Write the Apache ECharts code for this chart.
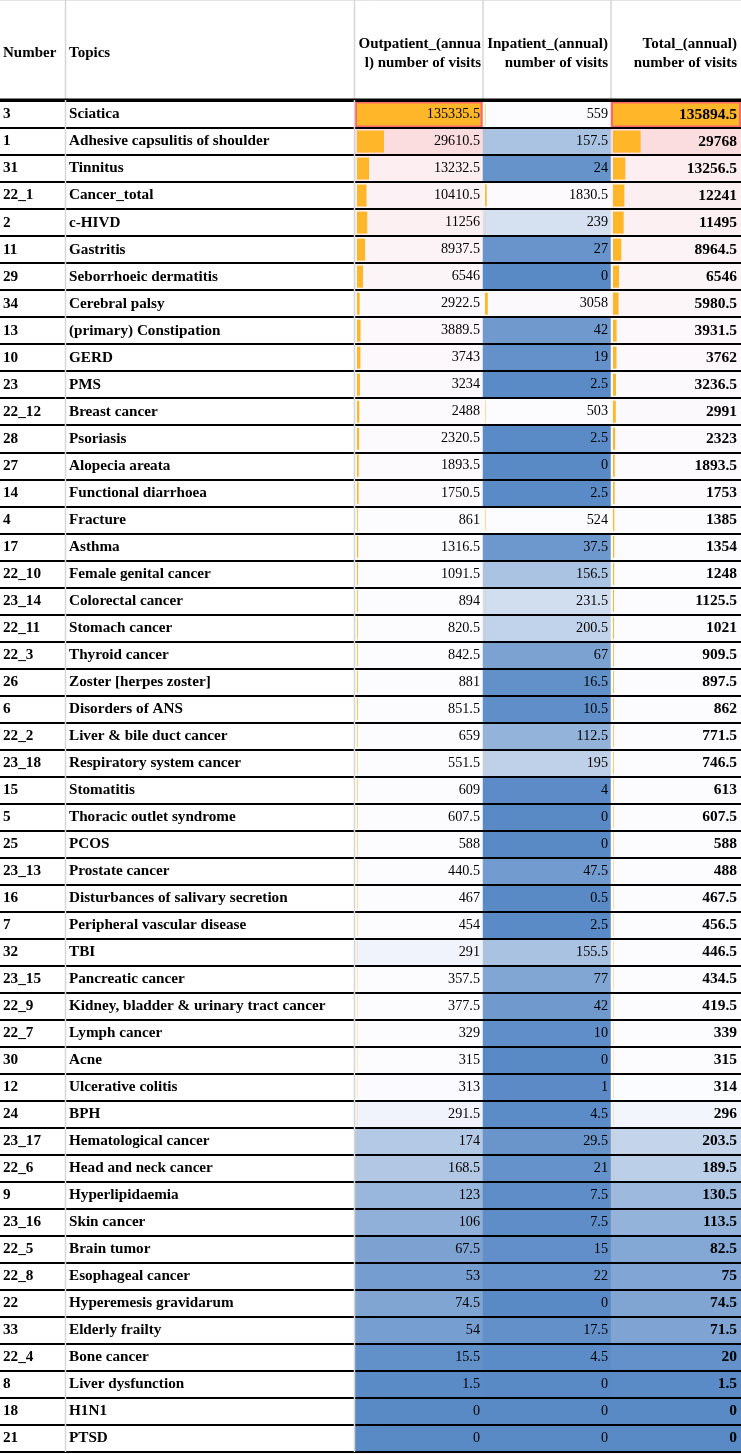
<!DOCTYPE html>
<html>
<head>
<meta charset="utf-8">
<title>Annual number of visits by topic</title>
<script src="https://cdn.jsdelivr.net/npm/echarts@6/dist/echarts.min.js"></script>
<style>
  html, body { margin: 0; padding: 0; background: #fff; }
  #table { width: 741px; height: 1454px; }
</style>
</head>
<body>
<div id="table"></div>
<script>
// table rows
const numbers = ["3", "1", "31", "22_1", "2", "11", "29", "34", "13", "10", "23", "22_12", "28", "27", "14", "4", "17", "22_10", "23_14", "22_11", "22_3", "26", "6", "22_2", "23_18", "15", "5", "25", "23_13", "16", "7", "32", "23_15", "22_9", "22_7", "30", "12", "24", "23_17", "22_6", "9", "23_16", "22_5", "22_8", "22", "33", "22_4", "8", "18", "21"];
const topics = ["Sciatica", "Adhesive capsulitis of shoulder", "Tinnitus", "Cancer_total", "c-HIVD", "Gastritis", "Seborrhoeic dermatitis", "Cerebral palsy", "(primary) Constipation", "GERD", "PMS", "Breast cancer", "Psoriasis", "Alopecia areata", "Functional diarrhoea", "Fracture", "Asthma", "Female genital cancer", "Colorectal cancer", "Stomach cancer", "Thyroid cancer", "Zoster [herpes zoster]", "Disorders of ANS", "Liver & bile duct cancer", "Respiratory system cancer", "Stomatitis", "Thoracic outlet syndrome", "PCOS", "Prostate cancer", "Disturbances of salivary secretion", "Peripheral vascular disease", "TBI", "Pancreatic cancer", "Kidney, bladder & urinary tract cancer", "Lymph cancer", "Acne", "Ulcerative colitis", "BPH", "Hematological cancer", "Head and neck cancer", "Hyperlipidaemia", "Skin cancer", "Brain tumor", "Esophageal cancer", "Hyperemesis gravidarum", "Elderly frailty", "Bone cancer", "Liver dysfunction", "H1N1", "PTSD"];
const outpatient = [135335.5, 29610.5, 13232.5, 10410.5, 11256, 8937.5, 6546, 2922.5, 3889.5, 3743, 3234, 2488, 2320.5, 1893.5, 1750.5, 861, 1316.5, 1091.5, 894, 820.5, 842.5, 881, 851.5, 659, 551.5, 609, 607.5, 588, 440.5, 467, 454, 291, 357.5, 377.5, 329, 315, 313, 291.5, 174, 168.5, 123, 106, 67.5, 53, 74.5, 54, 15.5, 1.5, 0, 0];
const inpatient = [559, 157.5, 24, 1830.5, 239, 27, 0, 3058, 42, 19, 2.5, 503, 2.5, 0, 2.5, 524, 37.5, 156.5, 231.5, 200.5, 67, 16.5, 10.5, 112.5, 195, 4, 0, 0, 47.5, 0.5, 2.5, 155.5, 77, 42, 10, 0, 1, 4.5, 29.5, 21, 7.5, 7.5, 15, 22, 0, 17.5, 4.5, 0, 0, 0];
const total = [135894.5, 29768, 13256.5, 12241, 11495, 8964.5, 6546, 5980.5, 3931.5, 3762, 3236.5, 2991, 2323, 1893.5, 1753, 1385, 1354, 1248, 1125.5, 1021, 909.5, 897.5, 862, 771.5, 746.5, 613, 607.5, 588, 488, 467.5, 456.5, 446.5, 434.5, 419.5, 339, 315, 314, 296, 203.5, 189.5, 130.5, 113.5, 82.5, 75, 74.5, 71.5, 20, 1.5, 0, 0];

const chart = echarts.init(document.getElementById("table"));

// 3-colour scale (min - median - max) and data bars share one range over all three columns
const allValues = outpatient.concat(inpatient, total).sort((a, b) => a - b);
const n = allValues.length;
const minValue = allValues[0];
const maxValue = allValues[n - 1];
const median = n % 2 ? allValues[(n - 1) / 2] : (allValues[n / 2 - 1] + allValues[n / 2]) / 2;

function scalePos(v) {
  if (v <= median) return 0.5 * (v - minValue) / (median - minValue);
  return 0.5 + 0.5 * (v - median) / (maxValue - median);
}

const FONT = "Liberation Serif";
const TOP = 101;
const HEIGHT = 1351;
const rowIdx = numbers.map((_, i) => i);

const grids = [];
const xAxes = [];
const yAxes = [];
const series = [];
const heatmapIdx = [];

function addGrid(left, width) {
  grids.push({ left: left, width: width, top: TOP, height: HEIGHT, outerBoundsMode: "none" });
  return grids.length - 1;
}

// text-only column: labels of a category y axis drawn inside the grid
function addTextColumn(left, width, labels, margin) {
  const g = addGrid(left, width);
  xAxes.push({ type: "value", gridIndex: g, show: false });
  yAxes.push({
    type: "category",
    gridIndex: g,
    data: labels,
    inverse: true,
    z: 10,
    axisLine: { show: false },
    axisTick: { show: false },
    splitLine: { show: false },
    axisLabel: {
      inside: true,
      interval: 0,
      margin: margin,
      padding: [4, 0, 0, 0],
      fontFamily: FONT,
      fontSize: 15.2,
      fontWeight: "bold",
      color: "#000",
    },
  });
}

function addValueColumn(values, left, width, bold, margin) {
  // coloured cells
  const cellGrid = addGrid(left, width);
  xAxes.push({ type: "category", gridIndex: cellGrid, data: [""], show: false });
  yAxes.push({ type: "category", gridIndex: cellGrid, data: rowIdx, inverse: true, show: false });
  heatmapIdx.push(series.length);
  series.push({
    type: "heatmap",
    xAxisIndex: xAxes.length - 1,
    yAxisIndex: yAxes.length - 1,
    data: values.map((v, i) => [0, i, v, scalePos(v)]),
    emphasis: { disabled: true },
    silent: true,
    z: 1,
  });

  // data bars + value labels
  const barGrid = addGrid(left + 2, width - 4);
  xAxes.push({ type: "value", gridIndex: barGrid, min: 0, max: maxValue, show: false });
  yAxes.push({
    type: "category",
    gridIndex: barGrid,
    data: rowIdx,
    inverse: true,
    position: "right",
    z: 10,
    axisLine: { show: false },
    axisTick: { show: false },
    splitLine: { show: false },
    axisLabel: {
      inside: true,
      interval: 0,
      margin: margin,
      padding: [4, 0, 0, 0],
      formatter: (v, i) => String(values[i]),
      fontFamily: FONT,
      fontSize: bold ? 15.5 : 14.2,
      fontWeight: bold ? "bold" : "normal",
      color: "#000",
    },
  });
  series.push({
    type: "bar",
    xAxisIndex: xAxes.length - 1,
    yAxisIndex: yAxes.length - 1,
    data: values,
    barWidth: 22,
    itemStyle: { color: "#FFB628" },
    silent: true,
    z: 2,
  });
}

addTextColumn(0, 66, numbers, 3);
addTextColumn(66, 289, topics, 3);
addValueColumn(outpatient, 355, 128, false, 1);
addValueColumn(inpatient, 483, 128, false, 1);
addValueColumn(total, 611, 130, true, 2);

// row borders
const frame = addGrid(0, 741);
xAxes.push({ type: "value", gridIndex: frame, show: false });
yAxes.push({
  type: "category",
  gridIndex: frame,
  data: rowIdx,
  inverse: true,
  z: 20,
  axisLine: { show: false },
  axisTick: { show: false },
  axisLabel: { show: false },
  splitLine: { show: true, interval: 0, lineStyle: { color: "#000", width: 1.8 } },
});

const headerFont = 'bold 15px "Liberation Serif"';
const gray = "#d6d6d6";

const option = {
  animation: false,
  backgroundColor: "#fff",
  grid: grids,
  xAxis: xAxes,
  yAxis: yAxes,
  visualMap: {
    type: "continuous",
    show: false,
    min: 0,
    max: 1,
    dimension: 3,
    seriesIndex: heatmapIdx,
    inRange: { color: ["#5A8AC6", "#FCFCFF", "#F8696B"] },
  },
  graphic: [
    { type: "line", z: 30, shape: { x1: 0, y1: 0.5, x2: 741, y2: 0.5 }, style: { stroke: "#e4e4e4", lineWidth: 1 } },
    { type: "line", z: 30, shape: { x1: 65.5, y1: 0, x2: 65.5, y2: 1452 }, style: { stroke: gray, lineWidth: 1.5 } },
    { type: "line", z: 30, shape: { x1: 354.5, y1: 0, x2: 354.5, y2: 1452 }, style: { stroke: gray, lineWidth: 1.5 } },
    { type: "line", z: 30, shape: { x1: 483, y1: 0, x2: 483, y2: 100 }, style: { stroke: gray, lineWidth: 1.5 } },
    { type: "line", z: 30, shape: { x1: 611, y1: 0, x2: 611, y2: 100 }, style: { stroke: gray, lineWidth: 1.5 } },
    { type: "line", z: 30, shape: { x1: 0, y1: 99.3, x2: 741, y2: 99.3 }, style: { stroke: "#000", lineWidth: 1.6 } },
    { type: "text", z: 30, x: 3, y: 53, style: { text: "Number", font: headerFont, fill: "#000", align: "left", verticalAlign: "middle" } },
    { type: "text", z: 30, x: 69, y: 53, style: { text: "Topics", font: headerFont, fill: "#000", align: "left", verticalAlign: "middle" } },
    { type: "text", z: 30, x: 481, y: 53.5, style: { text: "Outpatient_(annua\nl) number of visits", font: headerFont, fill: "#000", align: "right", verticalAlign: "middle", lineHeight: 19.6 } },
    { type: "text", z: 30, x: 608, y: 53.5, style: { text: "Inpatient_(annual)\nnumber of visits", font: headerFont, fill: "#000", align: "right", verticalAlign: "middle", lineHeight: 19.6 } },
    { type: "text", z: 30, x: 737, y: 53.5, style: { text: "Total_(annual)\nnumber of visits", font: headerFont, fill: "#000", align: "right", verticalAlign: "middle", lineHeight: 19.6 } },
  ],
  series: series,
};

chart.setOption(option);
window.addEventListener("resize", () => chart.resize());
</script>
</body>
</html>
